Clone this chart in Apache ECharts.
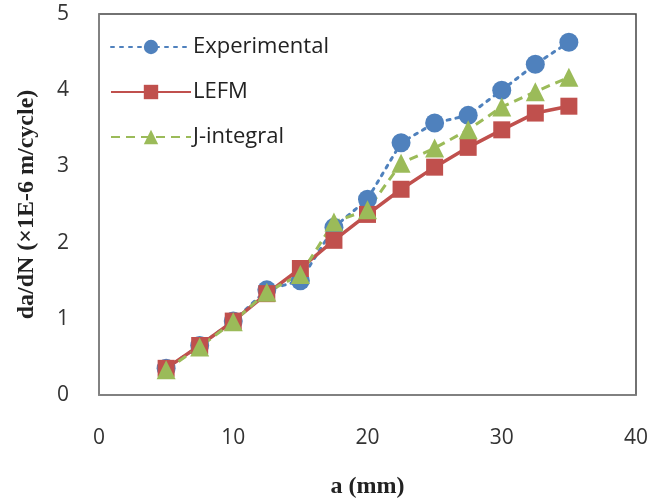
<!DOCTYPE html>
<html>
<head>
<meta charset="utf-8">
<script src="https://cdn.jsdelivr.net/npm/echarts@6/dist/echarts.min.js"></script>
<style>
html,body{margin:0;padding:0;background:#fff;}
#main{width:651px;height:502px;}
</style>
</head>
<body>
<div id="main"></div>
<script>
var crackLen = [5, 7.5, 10, 12.5, 15, 17.5, 20, 22.5, 25, 27.5, 30, 32.5, 35];
var experimental = [0.35, 0.65, 0.97, 1.38, 1.50, 2.20, 2.57, 3.31, 3.57, 3.67, 4.00, 4.34, 4.63];
var lefm = [0.35, 0.65, 0.97, 1.33, 1.66, 2.03, 2.37, 2.70, 2.99, 3.25, 3.48, 3.70, 3.79];
var jIntegral = [0.33, 0.63, 0.96, 1.35, 1.58, 2.27, 2.43, 3.04, 3.24, 3.48, 3.78, 3.98, 4.17];

function pairs(ys){
	var out = [];
	for(var i=0;i<crackLen.length;i++){ out.push([crackLen[i], ys[i]]); }
	return out;
}

var tickFont = {color:'#333', fontSize:21, fontFamily:'Open Sans'};
var titleFont = {fontFamily:'Liberation Serif', fontWeight:'bold', fontSize:24, color:'#222'};

var option = {
	animation: false,
	grid: {
		left: 99, right: 15, top: 14, bottom: 107,
		outerBoundsMode: 'none',
		show: true,
		borderColor: '#444',
		borderWidth: 1.5
	},
	legend: {
		orient: 'vertical',
		left: 105,
		top: 31,
		itemWidth: 80,
		itemHeight: 18,
		itemGap: 23,
		textStyle: {color:'#222', fontSize:22, fontFamily:'Open Sans', padding:[0,0,0,-3]},
		data: ['Experimental', 'LEFM', 'J-integral']
	},
	xAxis: {
		type: 'value',
		min: 0, max: 40, interval: 10,
		name: 'a (mm)',
		nameLocation: 'middle',
		nameGap: 80,
		nameTextStyle: titleFont,
		axisLine: {show:true, lineStyle:{color:'#888', width:1.5}},
		axisTick: {show:false},
		splitLine: {show:false},
		axisLabel: Object.assign({margin:33}, tickFont)
	},
	yAxis: {
		type: 'value',
		min: 0, max: 5, interval: 1,
		name: 'da/dN (\u00d71E-6 m/cycle)',
		nameLocation: 'middle',
		nameGap: 60,
		nameTextStyle: titleFont,
		axisLine: {show:true, lineStyle:{color:'#888', width:1.5}},
		axisTick: {show:false},
		splitLine: {show:false},
		axisLabel: Object.assign({margin:30}, tickFont)
	},
	series: [
		{
			name: 'Experimental',
			type: 'line',
			data: pairs(experimental),
			symbol: 'circle',
			symbolSize: 19,
			itemStyle: {color:'#4F81BD'},
			lineStyle: {color:'#4F81BD', width:3, type:[3,6], cap:'round'}
		},
		{
			name: 'LEFM',
			type: 'line',
			data: pairs(lefm),
			symbol: 'rect',
			symbolSize: 17,
			itemStyle: {color:'#C0504D'},
			lineStyle: {color:'#C0504D', width:3.5}
		},
		{
			name: 'J-integral',
			type: 'line',
			data: pairs(jIntegral),
			symbol: 'triangle',
			symbolSize: 19,
			itemStyle: {color:'#9BBB59'},
			lineStyle: {color:'#9BBB59', width:3, type:[9,6]}
		}
	]
};

var myChart = echarts.init(document.getElementById('main'));
myChart.setOption(option);
</script>
</body>
</html>
